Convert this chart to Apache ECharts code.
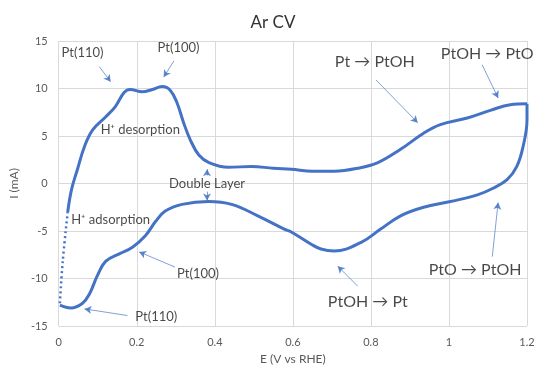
<!DOCTYPE html>
<html>
<head>
<meta charset="utf-8">
<script src="https://cdn.jsdelivr.net/npm/echarts@6/dist/echarts.min.js"></script>
<style>
  html, body { margin: 0; padding: 0; background: #fff; }
  #chart { width: 546px; height: 370px; }
</style>
</head>
<body>
<div id="chart"></div>
<script>
// Anodic sweep (E in V vs RHE, I in mA), 0 V -> 1.2 V
const anodicE = [0.003, 0.010, 0.023, 0.033, 0.048, 0.066, 0.087, 0.12, 0.145, 0.168, 0.183, 0.214, 0.24, 0.265, 0.286, 0.303, 0.32, 0.337, 0.359, 0.385, 0.435, 0.494, 0.55, 0.596, 0.65, 0.706, 0.766, 0.818, 0.876, 0.935, 0.978, 1.047, 1.106, 1.157, 1.2];
const anodicI = [-12.6, -8.3, -3.0, -0.6, 1.5, 3.9, 5.65, 7.0, 8.1, 9.6, 9.9, 9.65, 9.9, 10.2, 9.8, 8.5, 6.4, 4.6, 3.0, 2.2, 1.7, 1.8, 1.6, 1.5, 1.3, 1.3, 1.6, 2.2, 3.6, 5.3, 6.2, 6.9, 7.7, 8.3, 8.4];

// Cathodic sweep, 1.2 V -> 0 V
const cathodicE = [1.2, 1.2, 1.19, 1.174, 1.149, 1.113, 1.073, 1.004, 0.935, 0.876, 0.825, 0.775, 0.706, 0.672, 0.647, 0.596, 0.578, 0.51, 0.443, 0.384, 0.316, 0.273, 0.248, 0.222, 0.189, 0.155, 0.12, 0.099, 0.079, 0.061, 0.031, 0.003];
const cathodicI = [8.4, 6.7, 3.9, 1.8, 0.4, -0.5, -1.2, -1.9, -2.5, -3.4, -4.8, -6.2, -7.1, -6.9, -6.4, -5.1, -4.8, -3.4, -2.2, -1.9, -2.2, -2.9, -4.0, -5.5, -6.7, -7.4, -8.2, -9.7, -11.6, -12.6, -13.1, -12.8];

// Number of leading anodic points on the steep hydrogen rise (drawn sparse)
const steepCount = 3;

// Annotation texts and where they sit
const noteText = ['Pt(110)', 'Pt(100)', 'H\u207A desorption', 'Double Layer', 'H\u207A adsorption', 'Pt(100)', 'Pt(110)', 'Pt \u2192 PtOH', 'PtOH \u2192 PtO', 'PtO \u2192 PtOH', 'PtOH \u2192 Pt'];
const noteE = [0.061, 0.307, 0.209, 0.38, 0.133, 0.357, 0.25, 0.81, 1.098, 1.067, 0.792];
const noteI = [13.8, 14.3, 5.65, 0.0, -3.8, -9.5, -14.0, 12.8, 13.6, -9.1, -12.5];
const noteBig = [false, false, false, false, false, false, false, true, true, true, true];

// Annotation arrows: tail (E, I) -> head (E, I)
const arrowFromE = [0.104, 0.295, 0.38, 0.38, 0.298, 0.176, 0.813, 1.085, 1.111, 0.766];
const arrowFromI = [12.3, 12.9, 0.85, -0.85, -8.8, -13.9, 10.9, 12.5, -7.7, -10.8];
const arrowToE = [0.133, 0.269, 0.38, 0.38, 0.206, 0.066, 0.92, 1.126, 1.126, 0.715];
const arrowToI = [10.7, 11.2, 1.5, -1.8, -7.2, -13.2, 6.4, 9.0, -2.0, -8.7];

const xTicks = { min: 0, max: 1.2, step: 0.2 };
const yTicks = { min: -15, max: 15, step: 5 };

const BLUE = '#4472C4';
const FONT = 'Lato, "Open Sans", "DejaVu Sans", sans-serif';

const pairs = (xs, ys) => xs.map((x, i) => [x, ys[i]]);
const anodic = pairs(anodicE, anodicI);
const cathodic = pairs(cathodicE, cathodicI);

const arrows = arrowFromE.map((x, i) => [
  { coord: [x, arrowFromI[i]], symbol: 'none' },
  { coord: [arrowToE[i], arrowToI[i]], symbol: 'arrow' }
]);

const notes = noteText.map((t, i) => ({
  value: [noteE[i], noteI[i]],
  label: { formatter: t, fontSize: noteBig[i] ? 16 : 13 }
}));

const chart = echarts.init(document.getElementById('chart'), null, { renderer: 'canvas' });
chart.setOption({
  animation: false,
  backgroundColor: '#fff',
  title: {
    text: 'Ar CV',
    left: 'center',
    top: 9,
    textStyle: { fontFamily: FONT, fontSize: 17, fontWeight: 'normal', color: '#333' }
  },
  grid: { left: 56, right: 19, top: 41, bottom: 43 },
  xAxis: {
    type: 'value',
    min: xTicks.min, max: xTicks.max, interval: xTicks.step,
    name: 'E (V vs RHE)',
    nameLocation: 'middle',
    nameGap: 27,
    nameTextStyle: { fontFamily: FONT, fontSize: 12, color: '#595959' },
    axisLine: { show: false, onZero: false },
    axisTick: { show: false },
    axisLabel: { fontFamily: FONT, fontSize: 11, color: '#595959', margin: 11 },
    splitLine: { show: true, lineStyle: { color: '#d9d9d9', width: 1 } }
  },
  yAxis: {
    type: 'value',
    min: yTicks.min, max: yTicks.max, interval: yTicks.step,
    name: 'I (mA)',
    nameLocation: 'middle',
    nameGap: 38,
    nameTextStyle: { fontFamily: FONT, fontSize: 12, color: '#595959' },
    axisLine: { show: false },
    axisTick: { show: false },
    axisLabel: { fontFamily: FONT, fontSize: 11, color: '#595959', margin: 11 },
    splitLine: { show: true, lineStyle: { color: '#d9d9d9', width: 1 } }
  },
  series: [
    {
      name: 'cathodic',
      type: 'line',
      data: cathodic,
      smooth: 0.4,
      showSymbol: false,
      lineStyle: { color: BLUE, width: 3 },
      z: 3
    },
    {
      name: 'anodic',
      type: 'line',
      data: anodic.slice(steepCount - 1),
      smooth: 0.4,
      showSymbol: false,
      lineStyle: { color: BLUE, width: 3 },
      z: 3
    },
    {
      name: 'anodic-steep',
      type: 'line',
      data: anodic.slice(0, steepCount),
      smooth: 0.4,
      showSymbol: false,
      lineStyle: { color: BLUE, width: 2.5, type: [2, 3] },
      z: 3
    },
    {
      name: 'arrows',
      type: 'line',
      data: [],
      markLine: {
        silent: true,
        symbolSize: [6, 7],
        label: { show: false },
        lineStyle: { color: BLUE, width: 0.8, type: 'solid', opacity: 0.85 },
        emphasis: { disabled: true },
        data: arrows
      },
      z: 4
    },
    {
      name: 'notes',
      type: 'scatter',
      symbolSize: 0,
      silent: true,
      data: notes,
      label: {
        show: true,
        position: 'inside',
        fontFamily: FONT,
        color: '#1a1a1a'
      },
      z: 5
    }
  ]
});
</script>
</body>
</html>
